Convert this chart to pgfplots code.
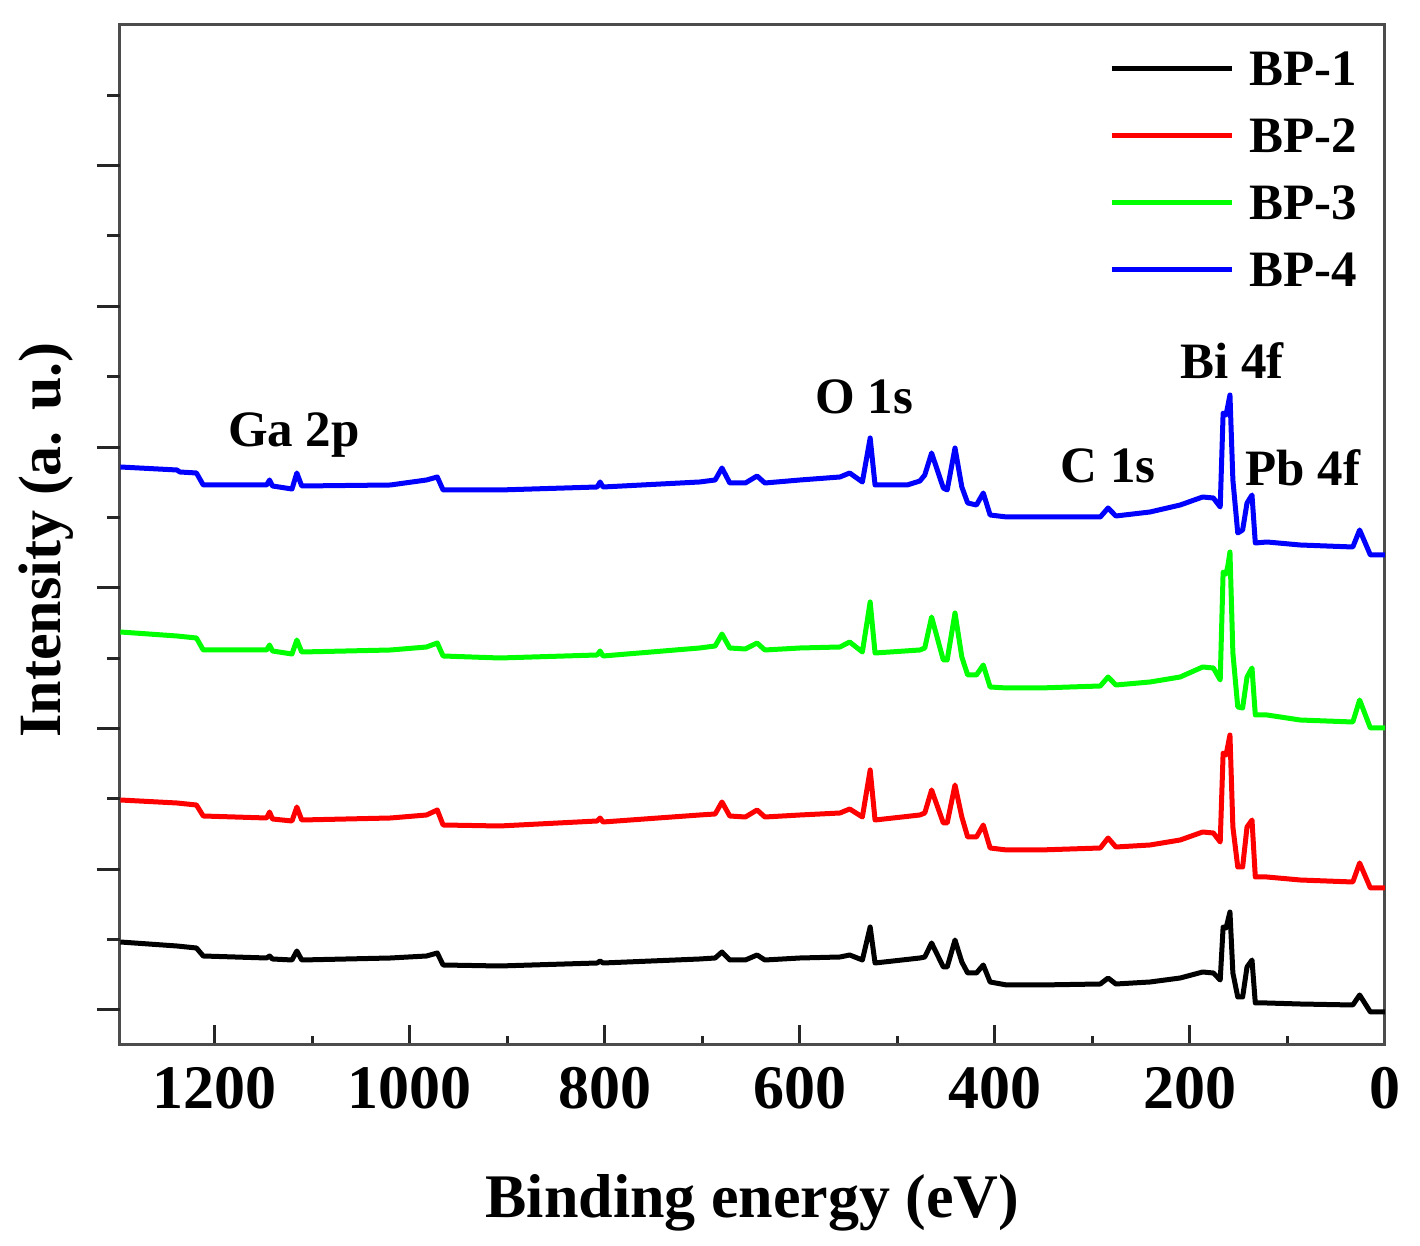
\documentclass[border=0pt]{standalone}
\usepackage{fontspec}
\setmainfont{Liberation Serif}
\usepackage{pgfplots}
\pgfplotsset{compat=1.18}
\begin{document}
\begin{tikzpicture}
\begin{axis}[
  scale only axis, width=632.5pt, height=510pt,
  x dir=reverse, xmin=0, xmax=1297.4, ymin=0, ymax=1020,
  xtick={0,200,...,1200}, minor xtick={100,300,...,1100},
  ytick=\empty,
  xtick pos=bottom, tick align=inside,
  major tick length=10pt, minor tick length=4.5pt,
  every tick/.style={line width=1.5pt, black!85},
  axis line style={line width=1.5pt, black!70},
  /pgf/number format/assume math mode=true,
  /pgf/number format/set thousands separator={},
  xticklabel style={font=\fontsize{31}{37}\selectfont\bfseries, yshift=-7.5pt},
  xlabel={Binding energy (eV)},
  ylabel={Intensity (a. u.)},
  xlabel style={font=\fontsize{31}{37}\selectfont\bfseries, at={(axis description cs:0.5,-0.1696)}, anchor=base},
  ylabel style={font=\fontsize{30}{36}\selectfont\bfseries, at={(axis description cs:-0.0474,0.495)}, anchor=base},
  legend cell align=left,
  legend image code/.code={\draw[#1, line width=2.6pt] (0pt,0.3pt) -- (60pt,0.3pt);},
  legend style={draw=none, fill=none, inner sep=0pt, outer sep=0pt,
    at={(axis description cs:1,1)}, anchor=north east, xshift=-14pt, yshift=-13.5pt,
    row sep=16.5pt, column sep=7.5pt,
    nodes={inner sep=0pt, text height=17pt, text depth=0pt, font=\fontsize{25.5}{30}\selectfont\bfseries}},
  every axis plot/.append style={line width=2.5pt, line join=round},
]
% BP-1
\addplot[black] table {
1297 103
1239 99
1219 97
1212 89
1147 87
1144 89
1141 86
1121 85
1116 94
1111 85
1020 87
983 89
972 92
966 80
908 79
808 82
805 84
802 82
703 86
687 87
680 93
672 85
656 85
644 90
636 85
600 87
559 88
549 90
536 85
528 118
523 82
477 87
472 88
465 102
453 78
449 78
441 105
434 83
428 72
419 72
412 80
405 63
388 60
354 60
292 61
284 67
276 61
241 63
210 67
187 73
176 72
169 65
166 118
163 117
161 125
159 133
156 72
151 48
146 48
141.5 78
136.4 85
133 42
121 42
87 41
33 40
26 50
15 33
0 33
};
\addlegendentry{BP-1}
% BP-2
\addplot[red] table {
1297 245
1239 242
1219 240
1212 229
1147 227
1144 233
1141 226
1121 224
1116 238
1111 225
1020 227
983 230
972 235
966 220
908 219
808 224
805 227
802 223
703 230
687 231
680 243
672 229
656 228
644 235
636 228
600 230
559 232
549 236
536 228
528 275
523 225
477 230
472 232
465 255
453 222
449 222
441 260
434 228
428 208
419 208
412 220
405 197
388 195
354 195
292 197
284 207
276 198
241 200
210 205
187 213
176 212
169 203
166 292
163 290
161 300
159 310
156 218
151 178
146 178
141.5 218
136.4 225
133 168
121 168
87 165
33 163
26 182
15 157
0 157
};
\addlegendentry{BP-2}
% BP-3
\addplot[green] table {
1297 413
1239 409
1219 407
1212 395
1147 395
1144 400
1141 394
1121 391
1116 405
1111 393
1020 395
983 398
972 402
966 389
908 387
808 390
805 394
802 389
703 397
687 399
680 411
672 397
656 396
644 402
636 395
600 397
559 398
549 403
536 393
528 443
523 392
477 395
472 397
465 428
453 385
449 385
441 432
434 388
428 370
419 370
412 380
405 358
388 357
354 357
292 359
284 368
276 360
241 363
210 368
187 378
176 377
169 365
166 473
163 471
161 480
159 493
156 392
151 338
146 337
141.5 368
136.4 377
133 330
121 330
87 325
33 323
26 345
15 317
0 317
};
\addlegendentry{BP-3}
% BP-4
\addplot[blue] table {
1297 578
1239 575
1236 573
1219 572
1212 560
1147 560
1144 565
1141 559
1121 556
1116 572
1111 559
1020 560
983 565
972 568
966 555
908 555
808 558
805 563
802 558
703 563
687 565
680 577
672 562
656 562
644 569
636 562
600 565
559 568
549 572
536 563
528 607
523 560
490 560
477 564
472 570
465 592
453 557
449 555
441 597
434 558
428 542
419 540
412 552
405 530
388 528
354 528
292 528
284 537
276 529
241 533
210 540
187 548
176 547
169 538
166 632
163 630
161 640
159 650
156 565
151 512
146 515
141.5 542
136.4 550
133 502
121 503
87 500
33 498
26 515
15 490
0 490
};
\addlegendentry{BP-4}
\begin{scope}[every node/.style={font=\fontsize{25.5}{30}\selectfont\bfseries, anchor=base, inner sep=0pt}]
\node at (axis cs:1119,598) {Ga 2p};
\node at (axis cs:534,631) {O 1s};
\node at (axis cs:157,666) {Bi 4f};
\node at (axis cs:284,562) {C 1s};
\node at (axis cs:84,559) {Pb 4f};
\end{scope}
\end{axis}
\begin{axis}[
  scale only axis, width=632.5pt, height=510pt,
  x dir=reverse, xmin=0, xmax=1297.4, ymin=0, ymax=1020,
  xtick=\empty,
  ytick={35,175.7,316.4,457.2,597.9,738.6,879.3},
  minor ytick={105.4,246.1,386.8,527.5,668.2,809.0,949.7},
  yticklabels={},
  ytick pos=left, tick align=outside,
  major tick length=11.5pt, minor tick length=6.5pt,
  every tick/.style={line width=1.5pt, black!85},
  axis line style={draw=none},
]
\end{axis}
\path ([shift={(-60pt,-100.5pt)}]current axis.south west) rectangle ([shift={(17.5pt,12.5pt)}]current axis.north east);
\end{tikzpicture}
\end{document}
